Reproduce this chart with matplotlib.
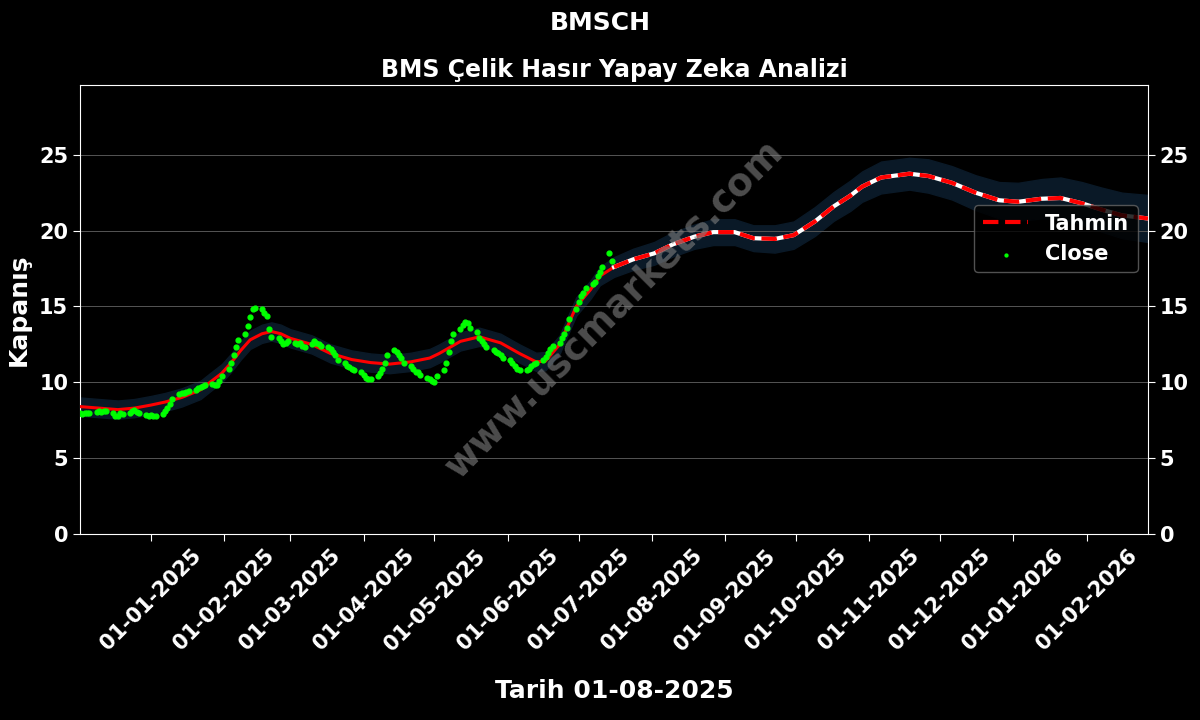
import matplotlib
matplotlib.use('Agg')
import matplotlib.pyplot as plt
import matplotlib.dates as mdates
import numpy as np
import pandas as pd

# closing prices, one per business day from 2024-12-02
close_dec = [7.95, 7.9, 7.95, 7.95, 8.0, 8.05, 8.1, 8.05, 8.1, 8.1, 8.0, 7.75, 7.8, 7.95, 7.9, 8.0, 8.1, 8.15, 8.05, 7.95, 7.85, 7.8]
close_jan = [7.85, 7.8, 7.8, 7.9, 8.1, 8.3, 8.6, 8.9, 9.2, 9.3, 9.3, 9.35, 9.4, 9.5, 9.6, 9.7, 9.75, 9.85, 9.9, 9.8, 9.85, 10.1, 10.4]
close_feb = [10.9, 11.3, 11.8, 12.3, 12.8, 13.2, 13.7, 14.3, 14.8, 14.9, 14.8, 14.6, 14.4, 13.5, 13.0, 12.9, 12.7, 12.5, 12.6, 12.7]
close_mar = [12.6, 12.5, 12.6, 12.4, 12.3, 12.5, 12.7, 12.6, 12.5, 12.4, 12.3, 12.2, 12.0, 11.8, 11.5, 11.3, 11.1, 11.0, 10.9, 10.8, 10.7]
close_apr = [10.5, 10.3, 10.2, 10.2, 10.4, 10.6, 10.9, 11.3, 11.8, 12.1, 12.0, 11.8, 11.6, 11.3, 11.1, 10.9, 10.7, 10.7, 10.5, 10.3, 10.2, 10.1]
close_may = [10.0, 10.4, 10.8, 11.3, 12.0, 12.7, 13.2, 13.5, 13.8, 14.0, 13.9, 13.6, 13.3, 12.9, 12.7, 12.5, 12.3, 12.1, 12.0, 11.9, 11.8, 11.6]
close_jun = [11.5, 11.3, 11.1, 10.9, 10.8, 10.8, 10.9, 11.1, 11.2, 11.3, 11.5, 11.7, 11.9, 12.2, 12.4, 12.6, 12.9, 13.2, 13.6, 14.2, 14.8]
close_jul = [15.3, 15.7, 15.9, 16.2, 16.5, 16.6, 17.0, 17.3, 17.6, 18.5, 18.0]

# model line (Tahmin) and its band half-width
tahmin_dates = ['2024-12-02', '2024-12-10', '2024-12-18', '2024-12-25', '2025-01-01', '2025-01-07',
                '2025-01-14', '2025-01-22', '2025-01-26', '2025-01-31', '2025-02-04', '2025-02-08',
                '2025-02-12', '2025-02-17', '2025-02-21', '2025-02-25', '2025-03-01', '2025-03-10',
                '2025-03-18', '2025-03-27', '2025-04-04', '2025-04-12', '2025-04-21', '2025-04-29',
                '2025-05-03', '2025-05-12', '2025-05-20', '2025-05-29', '2025-06-06', '2025-06-13',
                '2025-06-17', '2025-06-23', '2025-06-30', '2025-07-06', '2025-07-10', '2025-07-16',
                '2025-07-24', '2025-08-02', '2025-08-10', '2025-08-19', '2025-08-27', '2025-09-05',
                '2025-09-13', '2025-09-22', '2025-09-30', '2025-10-09', '2025-10-17', '2025-10-24',
                '2025-10-29', '2025-11-06', '2025-11-18', '2025-11-26', '2025-12-06', '2025-12-16',
                '2025-12-26', '2026-01-03', '2026-01-13', '2026-01-21', '2026-01-30', '2026-02-07',
                '2026-02-16', '2026-02-27']
tahmin_vals = [8.4, 8.3, 8.2, 8.3, 8.5, 8.7,
               9.0, 9.5, 10.0, 10.6, 11.3, 12.1,
               12.8, 13.2, 13.35, 13.2, 12.9, 12.5,
               11.9, 11.5, 11.3, 11.2, 11.35, 11.6,
               11.9, 12.7, 13.0, 12.6, 11.9, 11.35,
               11.4, 12.5, 15.0, 16.1, 17.0, 17.6,
               18.1, 18.5, 19.1, 19.6, 19.9, 19.9,
               19.5, 19.45, 19.7, 20.6, 21.6, 22.3,
               22.9, 23.5, 23.75, 23.6, 23.15, 22.5,
               22.0, 21.9, 22.1, 22.15, 21.8, 21.4,
               21.0, 20.8]
band_hw = [0.6, 0.6, 0.6, 0.6, 0.6, 0.6,
           0.6, 0.6, 0.6, 0.6, 0.6, 0.6,
           0.6, 0.6, 0.6, 0.6, 0.6, 0.6,
           0.6, 0.6, 0.6, 0.6, 0.6, 0.6,
           0.6, 0.6, 0.6, 0.6, 0.6, 0.6,
           0.6, 0.6, 0.6, 0.6, 0.6, 0.65,
           0.7, 0.75, 0.8, 0.8, 0.85, 0.85,
           0.85, 0.9, 0.9, 0.95, 0.95, 1.0,
           1.0, 1.05, 1.05, 1.1, 1.1, 1.15,
           1.2, 1.25, 1.3, 1.35, 1.4, 1.45,
           1.5, 1.55]
split_date = '2025-07-16'

close = close_dec + close_jan + close_feb + close_mar + close_apr + close_may + close_jun + close_jul
close_dates = pd.bdate_range('2024-12-02', periods=len(close))

t_dates = pd.to_datetime(tahmin_dates)
t_vals = np.array(tahmin_vals)
hw = np.array(band_hw)
hist = t_dates <= pd.Timestamp(split_date)
fut = t_dates >= pd.Timestamp(split_date)

plt.rcParams['font.family'] = 'DejaVu Sans'
plt.rcParams['font.weight'] = 'bold'

fig = plt.figure(figsize=(12, 7.2), dpi=100, facecolor='black')
ax = fig.add_axes([0.0667, 0.2583, 0.89, 0.6237])
ax.set_facecolor('black')

ax.fill_between(t_dates, t_vals - hw, t_vals + hw, color='#0a1927', zorder=1)
ax.plot(t_dates[hist], t_vals[hist], color='red', lw=2.2, zorder=3)
ax.plot(t_dates[fut], t_vals[fut], color='white', lw=3, zorder=3)
ax.plot(t_dates[fut], t_vals[fut], color='red', lw=3, ls='--', label='Tahmin', zorder=4)
ax.scatter(close_dates, close, color='lime', s=12, label='Close', zorder=5)

ax.set_xlim(pd.Timestamp('2024-12-02'), pd.Timestamp('2026-02-27'))
ax.set_ylim(0, 29.6)
ax.set_yticks([0, 5, 10, 15, 20, 25])
ax.grid(axis='y', color='#555555', lw=0.7)
ax.xaxis.set_major_locator(mdates.MonthLocator(bymonthday=1))
ax.xaxis.set_major_formatter(mdates.DateFormatter('%d-%m-%Y'))
ax.tick_params(colors='white', labelsize=15, right=True, labelright=True, length=5)
plt.setp(ax.get_xticklabels(), rotation=45, ha='center')
for lbl in ax.get_xticklabels() + ax.get_yticklabels():
    lbl.set_fontweight('bold')
for s in ax.spines.values():
    s.set_color('white')

ax.set_title('BMS Çelik Hasır Yapay Zeka Analizi', color='white', fontsize=17, fontweight='bold', pad=6)
fig.suptitle('BMSCH', color='white', fontsize=18, fontweight='bold', y=0.985)
ax.set_ylabel('Kapanış', color='white', fontsize=18, fontweight='bold', labelpad=6)
ax.set_xlabel('Tarih 01-08-2025', color='white', fontsize=18, fontweight='bold', labelpad=18)

ax.text(0.5, 0.5, 'www.uscmarkets.com', transform=ax.transAxes, rotation=45,
        ha='center', va='center', fontsize=27, fontweight='bold', color='gray', alpha=0.6, zorder=6)

leg = ax.legend(loc='upper right', bbox_to_anchor=(1.0, 0.755), fontsize=15, facecolor='black',
                edgecolor='#666666', labelcolor='white', markerscale=0.6, handlelength=2.2)
for t in leg.get_texts():
    t.set_fontweight('bold')

fig.savefig('out.png', dpi=100, facecolor='black')
